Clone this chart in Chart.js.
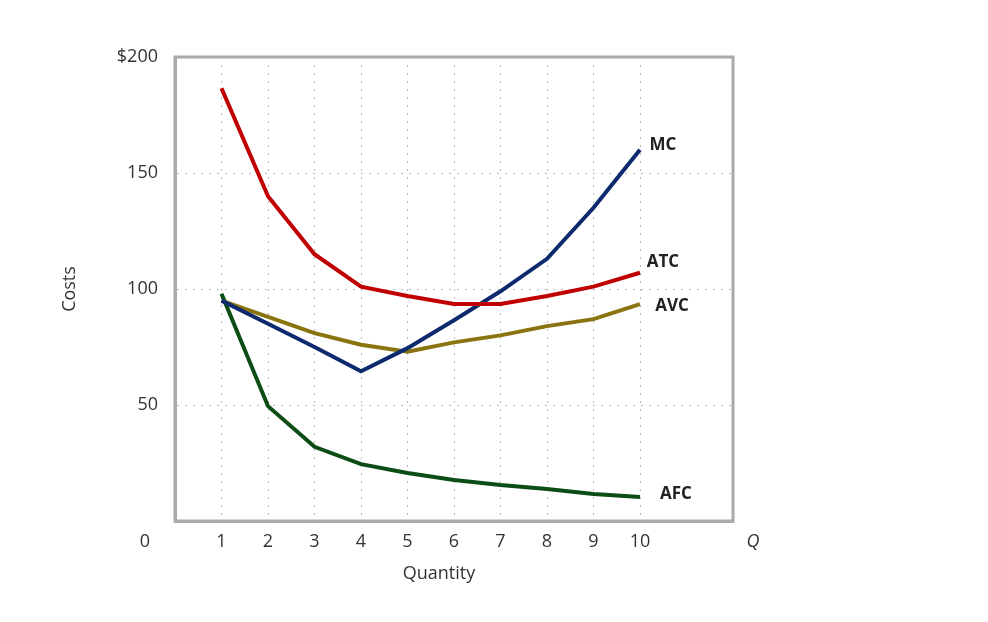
<!DOCTYPE html>
<html lang="en">
<head>
  <meta charset="UTF-8" />
  <title>Cost Curves</title>
  <script src="https://cdn.jsdelivr.net/npm/chart.js"></script>
  <style>
    body { margin: 0; background: #fff; }
    #wrap { width: 988px; height: 622px; }
  </style>
</head>
<body>
  <div id="wrap"><canvas id="costChart"></canvas></div>
  <script>
    const quantity = [1, 2, 3, 4, 5, 6, 7, 8, 9, 10];
    const atc = [186.5, 140, 115, 101, 97, 93.5, 93.5, 97, 101, 107];
    const mc  = [95, 85, 75, 64.5, 74.5, 86.5, 99, 113, 135, 160];
    const avc = [95, 88, 81, 76, 73, 77, 80, 84, 87, 93.5];
    const afc = [98, 49.5, 32, 24.5, 20.7, 17.7, 15.5, 13.8, 11.6, 10.3];
    const yTicks = [0, 50, 100, 150, 200];

    const pts = arr => arr.map((v, i) => ({ x: quantity[i], y: v }));
    const font = '"Open Sans", sans-serif';

    const series = [
      { label: "ATC", data: atc, color: "#c00000", tag: [663, 262] },
      { label: "MC", data: mc, color: "#0d2a6e", tag: [663, 145] },
      { label: "AVC", data: avc, color: "#8a7410", tag: [672, 306] },
      { label: "AFC", data: afc, color: "#0b4d14", tag: [676, 494] }
    ];

    const extras = {
      id: "extras",
      afterDraw(chart) {
        const c = chart.ctx, a = chart.chartArea;
        c.save();
        c.strokeStyle = "#aaaaaa";
        c.lineWidth = 3;
        c.strokeRect(a.left, a.top, a.right - a.left, a.bottom - a.top);
        c.fillStyle = "#222";
        c.font = "bold 17px " + font;
        c.textAlign = "center";
        c.textBaseline = "middle";
        series.forEach(s => c.fillText(s.label, s.tag[0], s.tag[1]));
        c.font = "18px " + font;
        c.fillStyle = "#333";
        c.fillText("0", 145, 542);
        c.fillText("Quantity", 439, 574);
        c.font = "italic 18px " + font;
        c.fillText("Q", 753, 542);
        c.font = "18px " + font;
        c.translate(70, 289);
        c.rotate(-Math.PI / 2);
        c.fillText("Costs", 0, 0);
        c.restore();
      }
    };

    new Chart(document.getElementById("costChart"), {
      type: "line",
      data: {
        datasets: series.map(s => ({
          label: s.label,
          data: pts(s.data),
          borderColor: s.color,
          borderWidth: 4,
          pointRadius: 0,
          tension: 0,
          fill: false
        }))
      },
      options: {
        responsive: true,
        maintainAspectRatio: false,
        animation: false,
        layout: { padding: { left: 0, right: 255, top: 57, bottom: 0 } },
        plugins: { legend: { display: false }, tooltip: { enabled: false } },
        scales: {
          x: {
            type: "linear",
            min: 0,
            max: 12,
            afterFit: s => { s.height = 101; },
            afterBuildTicks: s => { s.ticks = quantity.map(v => ({ value: v })); },
            ticks: { color: "#333", font: { family: font, size: 18 }, padding: 10 },
            grid: { color: "#bbb", drawTicks: false },
            border: { color: "#aaaaaa", width: 3, dash: [2, 6] }
          },
          y: {
            min: 0,
            max: 200,
            afterFit: s => { s.width = 175; },
            afterBuildTicks: s => { s.ticks = yTicks.map(v => ({ value: v })); },
            ticks: {
              color: "#333",
              font: { family: font, size: 18 },
              padding: 17,
              callback: v => v === 0 ? "" : (v === 200 ? "$200" : v)
            },
            grid: { color: "#bbb", drawTicks: false },
            border: { color: "#aaaaaa", width: 3, dash: [2, 6] }
          }
        }
      },
      plugins: [extras]
    });
  </script>
</body>
</html>
